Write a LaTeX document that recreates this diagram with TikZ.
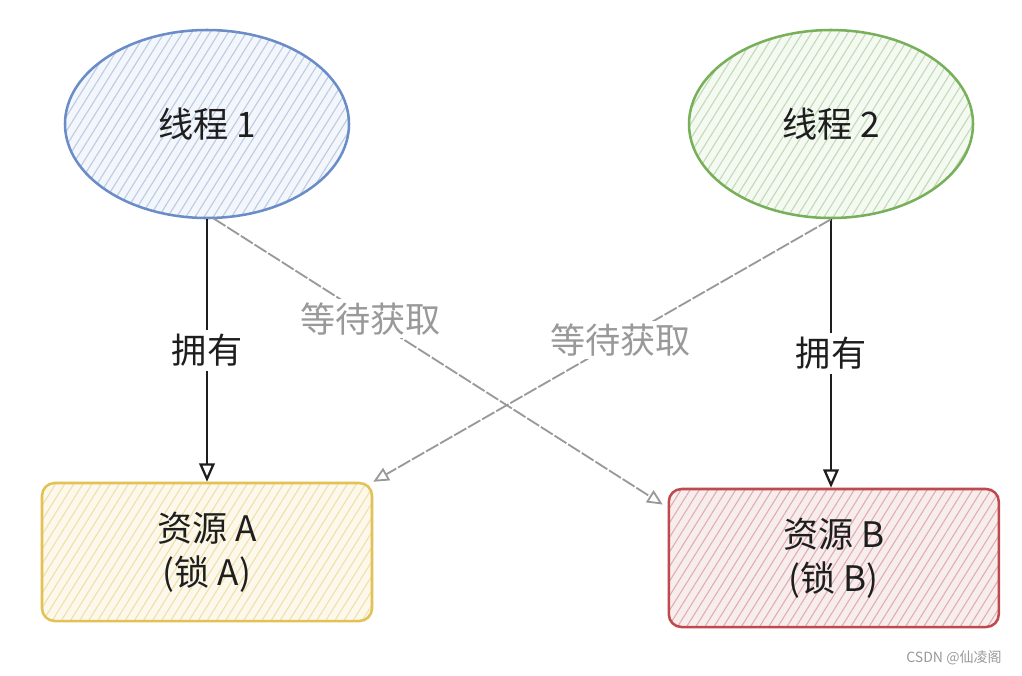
\documentclass[tikz,border=0pt]{standalone}
\usepackage{fontspec}
\setmainfont{Noto Sans CJK SC}
\usepackage{tikz}
\usetikzlibrary{shapes, arrows.meta, positioning, patterns.meta}
\definecolor{threadblue}{HTML}{6A8CC7}
\definecolor{threadgreen}{HTML}{78B05A}
\definecolor{resyellow}{HTML}{E3C255}
\definecolor{resred}{HTML}{BE4A50}
\definecolor{waitgray}{HTML}{999999}
\definecolor{inkblack}{HTML}{1E1E1E}
\tikzstyle{every node}=[font=\fontsize{25}{27}\selectfont, text=inkblack]
\tikzstyle{thread}=[ellipse, draw, line width=1.8pt, minimum width=7.1cm, minimum height=4.7cm]
\tikzstyle{res}=[rectangle, rounded corners=9pt, draw, line width=1.8pt, minimum width=8.25cm, minimum height=3.45cm, align=center, font=\fontsize{25}{31}\selectfont]
\tikzstyle{own}=[-{Triangle[open, length=13pt, width=11pt, line width=1.6pt]}, line width=1.6pt, inkblack]
\tikzstyle{wait}=[-{Triangle[open, length=11pt, width=10pt, line width=1.3pt]}, line width=1.3pt, waitgray, dash pattern=on 10pt off 1.5pt]
\tikzset{hatch/.style 2 args={preaction={fill=#1}, pattern={Lines[angle=58, distance=5.5pt, line width=0.8pt]}, pattern color=#2}}

\begin{document}
\begin{tikzpicture}[node distance=15.6cm]
            \useasboundingbox (0,0) rectangle (25.55,-16.875);
            \node[thread, draw=threadblue, hatch={threadblue!8}{threadblue!45}] (t1) at (5.175,-3.1) {线程 1};
            \node[thread, draw=threadgreen, hatch={threadgreen!8}{threadgreen!45}, right of=t1] (t2) {线程 2};
            \node[res, draw=resyellow, hatch={resyellow!12}{resyellow!50}, below of=t1, node distance=10.7cm] (resA) {资源 A\\(锁 A)};
            \node[res, draw=resred, hatch={resred!10}{resred!45}, below of=t2, node distance=10.85cm, xshift=0.07cm] (resB) {资源 B\\(锁 B)};
            \draw[own] (t1.south) -- node[fill=white, inner sep=3pt] (ownA) {拥有} (resA.north);
            \draw[own] (t2.south) -- node[fill=white, inner sep=3pt] (ownB) {拥有} (resB.north -| t2.south);
            \draw[wait] (t1.-86) -- node[pos=0.35, fill=white, text=waitgray, inner sep=2pt] (waitB) {等待获取} ([xshift=-0.12cm, yshift=-0.42cm]resB.north west);
            \draw[wait] (t2.south) -- node[pos=0.46, fill=white, text=waitgray, inner sep=2pt] (waitA) {等待获取} (resA.north east);
            \node[font=\fontsize{10}{12}\selectfont, text=waitgray] (mark) at (23.85,-16.45) {CSDN @仙凌阁};
        \end{tikzpicture}
\end{document}
